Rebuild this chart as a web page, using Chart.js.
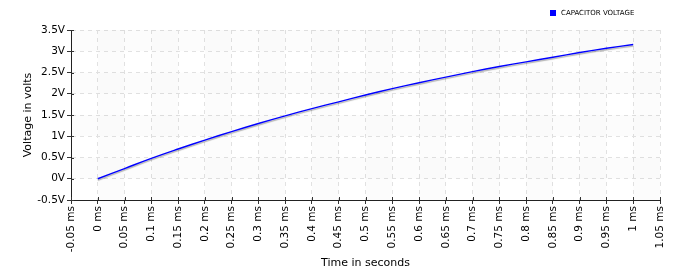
<!DOCTYPE html>
<html>
<head>
<meta charset="utf-8">
<script src="https://cdn.jsdelivr.net/npm/chart.js"></script>
<style>
  html, body { margin: 0; padding: 0; background: #fff; }
  #wrap { width: 680px; height: 280px; }
</style>
</head>
<body>
<div id="wrap"><canvas id="grafica" width="680" height="280"></canvas></div>
<script>
// datos
const tiempos = [0, 0.05, 0.1, 0.15, 0.2, 0.25, 0.3, 0.35, 0.4, 0.45, 0.5,
                 0.55, 0.6, 0.65, 0.7, 0.75, 0.8, 0.85, 0.9, 0.95, 1];
const voltajes = [0, 0.24, 0.48, 0.70, 0.91, 1.11, 1.30, 1.48, 1.65, 1.81, 1.97,
                  2.12, 2.26, 2.39, 2.52, 2.64, 2.75, 2.86, 2.97, 3.07, 3.16];
const serieNombre = 'CAPACITOR VOLTAGE';
const xTitulo = 'Time in seconds';
const yTitulo = 'Voltage in volts';

const FONT = 'DejaVu Sans, Verdana, sans-serif';

// franjas de fondo alternadas
const fondo = {
  id: 'fondo',
  beforeDatasetsDraw(chart) {
    const { ctx, chartArea: a, scales: { x, y } } = chart;
    ctx.save();
    ctx.fillStyle = 'rgba(0,0,0,0.012)';
    const yt = y.ticks;
    for (let i = 0; i < yt.length - 1; i++) {
      if ((yt.length - 2 - i) % 2 === 0) {
        const y1 = y.getPixelForValue(yt[i].value), y2 = y.getPixelForValue(yt[i + 1].value);
        ctx.fillRect(a.left, y2, a.right - a.left, y1 - y2);
      }
    }
    const xt = x.ticks;
    for (let i = 0; i < xt.length - 1; i++) {
      if (i % 2 === 1) {
        const x1 = x.getPixelForValue(xt[i].value), x2 = x.getPixelForValue(xt[i + 1].value);
        ctx.fillRect(x1, a.top, x2 - x1, a.bottom - a.top);
      }
    }
    ctx.restore();
  }
};

// sombra de la linea + marcas dentro del eje + leyenda
const sombra = {
  id: 'sombra',
  beforeDatasetDraw(chart) {
    const ctx = chart.ctx;
    ctx.save();
    ctx.shadowColor = 'rgba(0,0,0,0.3)';
    ctx.shadowOffsetX = 0;
    ctx.shadowOffsetY = 1.5;
    ctx.shadowBlur = 1;
  },
  afterDatasetDraw(chart) { chart.ctx.restore(); },
  afterDraw(chart) {
    const { ctx, chartArea: a, scales: { x, y } } = chart;
    ctx.save();
    ctx.strokeStyle = '#333';
    ctx.lineWidth = 1;
    ctx.beginPath();
    x.ticks.forEach(t => {
      const px = Math.round(x.getPixelForValue(t.value)) + 0.5;
      ctx.moveTo(px, a.bottom); ctx.lineTo(px, a.bottom - 3);
    });
    y.ticks.forEach(t => {
      const py = Math.round(y.getPixelForValue(t.value)) + 0.5;
      ctx.moveTo(a.left, py); ctx.lineTo(a.left + 3, py);
    });
    ctx.stroke();
    const ds = chart.data.datasets[0];
    ctx.fillStyle = ds.borderColor;
    ctx.fillRect(550, 10, 6, 6);
    ctx.fillStyle = '#000';
    ctx.font = '7px ' + FONT;
    ctx.textBaseline = 'middle';
    ctx.fillText(ds.label, 561, 13.5);
    ctx.restore();
  }
};

function redondo(v) { return Math.round(v * 100) / 100; }

const rejilla = { color: '#e2e2e2', tickColor: '#333', tickLength: 4, tickBorderDash: [] };
const borde = { display: true, color: '#222', width: 1, dash: [4, 4] };

new Chart(document.getElementById('grafica'), {
  type: 'line',
  data: {
    datasets: [{
      label: serieNombre,
      data: tiempos.map((t, i) => ({ x: t, y: voltajes[i] })),
      borderColor: '#0000ff',
      borderWidth: 1.4,
      pointRadius: 0,
      tension: 0.4,
      fill: false
    }]
  },
  options: {
    responsive: false,
    animation: false,
    layout: { padding: { top: 30, right: 20, left: 22, bottom: 0 } },
    plugins: { legend: { display: false }, tooltip: { enabled: false } },
    scales: {
      x: {
        type: 'linear',
        min: -0.05, max: 1.05,
        afterFit: s => { s.height = 80; },
        ticks: {
          stepSize: 0.05,
          autoSkip: false,
          minRotation: 90, maxRotation: 90,
          color: '#000',
          font: { family: FONT, size: 10.5 },
          padding: 2,
          callback: v => redondo(v) + ' ms'
        },
        grid: rejilla,
        border: borde,
        title: { display: true, text: xTitulo, color: '#000', font: { family: FONT, size: 11 }, padding: { top: 4, bottom: 10 } }
      },
      y: {
        min: -0.5, max: 3.5,
        afterFit: s => { s.width = 49; },
        ticks: {
          stepSize: 0.5,
          color: '#000',
          font: { family: FONT, size: 10.5 },
          padding: 2,
          callback: v => redondo(v) + 'V'
        },
        grid: rejilla,
        border: borde,
        title: { display: true, text: yTitulo, color: '#000', font: { family: FONT, size: 11 }, padding: 0 }
      }
    }
  },
  plugins: [fondo, sombra]
});
</script>
</body>
</html>
